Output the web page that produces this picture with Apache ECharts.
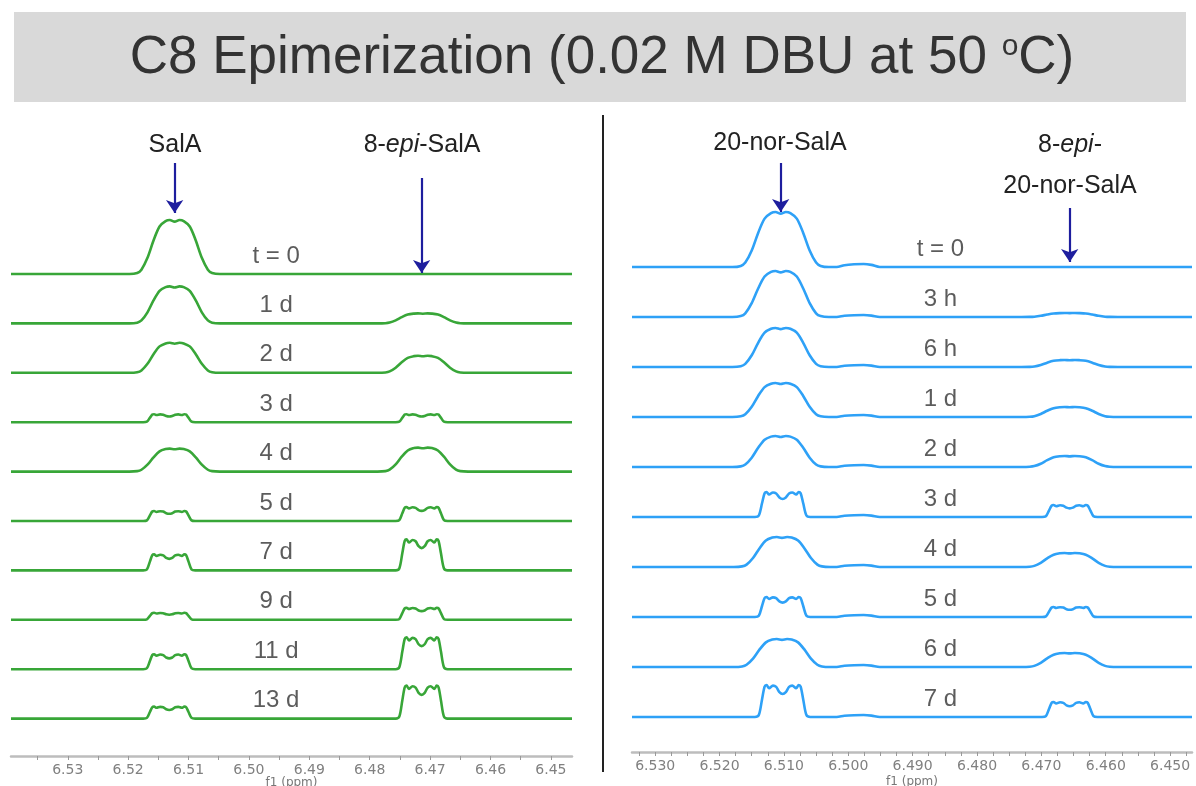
<!DOCTYPE html>
<html>
<head>
<meta charset="utf-8">
<script src="https://cdn.jsdelivr.net/npm/echarts@6/dist/echarts.min.js"></script>
<style>
html,body{margin:0;padding:0;background:#fff;}
#chart{width:1196px;height:786px;}
</style>
</head>
<body>
<div id="chart"></div>
<script>
// ---------- data ----------
const titleText = 'C8 Epimerization (0.02 M DBU at 50 ';
const leftLabels  = ['t = 0','1 d','2 d','3 d','4 d','5 d','7 d','9 d','11 d','13 d'];
const rightLabels = ['t = 0','3 h','6 h','1 d','2 d','3 d','4 d','5 d','6 d','7 d'];

// peak centres (ppm) per trace
const leftMainCenters  = [6.5123, 6.5123, 6.5123, 6.5132, 6.5123, 6.5132, 6.5132, 6.5132, 6.5132, 6.5132];
const leftEpiCenters   = [6.4714, 6.4712, 6.4712, 6.4714, 6.4712, 6.4714, 6.4714, 6.4714, 6.4714, 6.4714];
const rightMainCenters = [6.5105, 6.5105, 6.5105, 6.5105, 6.5105, 6.5102, 6.5103, 6.5102, 6.5103, 6.5102];
const rightEpiCenters  = [6.4656, 6.4656, 6.4656, 6.4656, 6.4656, 6.4656, 6.4656, 6.4656, 6.4656, 6.4656];

// peak heights and shapes per trace (b = broad, m = resolved multiplet)
const leftMainHeights  = [54, 37, 30, 8, 23, 10, 16, 7, 15, 12];
const leftEpiHeights   = [0, 10, 17, 8, 24, 14, 31, 12, 32, 33];
const leftShapes       = ['b','b','b','m','b','m','m','m','m','m'];
const rightMainHeights = [55, 46, 39, 34, 31, 25, 30, 20, 28, 32];
const rightEpiHeights  = [0, 4, 7, 10, 11, 12, 14, 10, 14, 15];
const rightShapes      = ['b','b','b','b','b','m','b','m','b','m'];

// small baseline hump next to the main peak in the right-hand spectra
const rightHumpPpm = 6.4986;
const rightHumpHeights = [3, 2, 2, 2, 2, 2, 2, 2, 2, 2];
const leftHumpPpm = 6.5000;
const leftHumpHeights = [0, 0, 0, 0, 0, 0, 0, 0, 0, 0];

// line shapes: [ppm offset from centre, relative height]
const broadProfile = [
  [-0.0075,0],[-0.0062,0.02],[-0.0055,0.08],[-0.0045,0.3],[-0.0035,0.62],[-0.0025,0.88],
  [-0.0015,0.98],[-0.0008,1.0],[0,0.97],[0.0008,1.0],[0.0015,0.98],[0.0025,0.88],
  [0.0035,0.62],[0.0045,0.3],[0.0055,0.08],[0.0062,0.02],[0.0075,0]
];
const multipletProfile = [
  [-0.0043,0],[-0.0037,0.06],[-0.0032,0.55],[-0.0028,0.95],[-0.0025,1.0],[-0.0021,0.9],
  [-0.0015,0.98],[-0.0010,0.94],[-0.0005,0.78],[0,0.72],[0.0005,0.78],[0.0010,0.94],
  [0.0015,0.98],[0.0021,0.9],[0.0025,1.0],[0.0028,0.95],[0.0032,0.55],[0.0037,0.06],[0.0043,0]
];
const humpProfile = [
  [-0.0035,0],[-0.0022,0.7],[-0.0010,1.0],[0.0005,0.9],[0.0020,0.6],[0.0032,0]
];

// axis tick labels
const leftTicks  = [6.45,6.46,6.47,6.48,6.49,6.50,6.51,6.52,6.53];
const rightTicks = [6.45,6.46,6.47,6.48,6.49,6.50,6.51,6.52,6.53];

// ---------- layout / style ----------
const GREEN = '#38a638', BLUE = '#2ea1f7', ARROW = '#1e1e9e';
const L = {min:6.4465, max:6.5394, left:11, width:561, top:100, bottom:30, ymax:656, base0:482, step:49.4, labelPpm:6.4955, nameGap:27};
const R = {min:6.4466, max:6.5336, left:632, width:560, top:100, bottom:34, ymax:652, base0:485, step:50, labelPpm:6.4857, nameGap:30};

function buildTrace(base, peaks, xmin, xmax) {
  const pts = [[xmax, base]];
  peaks.slice().sort((a,b)=>b.c-a.c).forEach(p => {
    if (p.h <= 0) return;
    const prof = p.shape === 'm' ? multipletProfile : (p.shape === 'h' ? humpProfile : broadProfile);
    for (let k = prof.length - 1; k >= 0; k--) {
      pts.push([p.c + prof[k][0], base + p.h * prof[k][1]]);
    }
  });
  pts.push([xmin, base]);
  return pts;
}

function tickValues(min, max, step) {
  const out = [];
  const start = Math.ceil(min / step - 1e-9);
  for (let k = start; k * step <= max + 1e-9; k++) out.push(+(k * step).toFixed(4));
  return out;
}

const series = [];
function addPanel(P, idx, labels, mainC, epiC, mainH, epiH, shapes, humpC, humpH, color) {
  labels.forEach((lab, i) => {
    const base = P.base0 - P.step * i;
    series.push({
      type:'line', xAxisIndex:idx, yAxisIndex:idx, showSymbol:false, smooth:0.3,
      silent:true, animation:false,
      lineStyle:{color:color, width:2.6},
      data: buildTrace(base, [
        {c:mainC[i],h:mainH[i],shape:shapes[i]},
        {c:humpC,h:humpH[i],shape:'h'},
        {c:epiC[i],h:epiH[i],shape:shapes[i]}], P.min, P.max)
    });
  });
  series.push({
    type:'scatter', xAxisIndex:idx, yAxisIndex:idx, symbolSize:0, silent:true, animation:false,
    data: labels.map((lab,i)=>[P.labelPpm, P.base0 - P.step*i + 18]),
    label:{show:true, position:'inside', formatter:p=>labels[p.dataIndex],
      fontFamily:'Liberation Sans', fontSize:24, color:'#333'}
  });
}
addPanel(L, 0, leftLabels, leftMainCenters, leftEpiCenters, leftMainHeights, leftEpiHeights, leftShapes, leftHumpPpm, leftHumpHeights, GREEN);
addPanel(R, 1, rightLabels, rightMainCenters, rightEpiCenters, rightMainHeights, rightEpiHeights, rightShapes, rightHumpPpm, rightHumpHeights, BLUE);

function arrowSeries(idx, arrows) {
  return {
    type:'line', xAxisIndex:idx, yAxisIndex:idx, data:[], silent:true, animation:false,
    markLine:{
      silent:true, animation:false, symbol:['none','arrow'], symbolSize:13,
      label:{show:false},
      lineStyle:{color:ARROW, width:2.2, type:'solid'},
      data: arrows.map(a=>[{coord:[a[0],a[1]]},{coord:[a[0],a[2]]}])
    }
  };
}
series.push(arrowSeries(0, [[6.5123, 593, 543],[6.4714, 578, 483]]));
series.push(arrowSeries(1, [[6.5105, 589, 540],[6.4656, 544, 490]]));

function xAxisFor(P, idx, ticks, dec, minorStep) {
  return {
    type:'value', gridIndex:idx, inverse:true, min:P.min, max:P.max,
    name:'f1 (ppm)', nameLocation:'middle', nameGap:P.nameGap, nameMoveOverlap:false,
    nameTextStyle:{fontFamily:'DejaVu Sans', fontSize:12, color:'#777', verticalAlign:'middle'},
    axisLine:{show:true, lineStyle:{color:'#bdbdbd', width:2.5}},
    axisTick:{show:true, customValues:tickValues(P.min, P.max, minorStep), length:4, lineStyle:{color:'#999', width:1}},
    axisLabel:{show:true, customValues:ticks, formatter:v=>Number(v).toFixed(dec),
      fontFamily:'DejaVu Sans', fontSize:14, color:'#808080', margin:7},
    splitLine:{show:false}
  };
}

const option = {
  backgroundColor:'#fff',
  animation:false,
  grid:[
    {left:L.left, width:L.width, top:L.top, bottom:L.bottom, containLabel:false, outerBoundsMode:'none'},
    {left:R.left, width:R.width, top:R.top, bottom:R.bottom, containLabel:false, outerBoundsMode:'none'}
  ],
  xAxis:[xAxisFor(L,0,leftTicks,2,0.005), xAxisFor(R,1,rightTicks,3,0.0025)],
  yAxis:[
    {type:'value', gridIndex:0, min:0, max:L.ymax, show:false},
    {type:'value', gridIndex:1, min:0, max:R.ymax, show:false}
  ],
  series:series,
  graphic:[
    {type:'rect', left:14, top:12, shape:{width:1172, height:90}, style:{fill:'#d9d9d9'}, silent:true},
    {type:'text', x:602, y:58, style:{text:titleText+'{sup|o}C)', font:'53px "Liberation Sans"', fill:'#333',
      align:'center', verticalAlign:'middle',
      rich:{sup:{fontSize:30, fontFamily:'Liberation Sans', fill:'#333', verticalAlign:'top', padding:[0,0,22,0]}}}},
    {type:'line', shape:{x1:603, y1:115, x2:603, y2:772}, style:{stroke:'#222', lineWidth:2}},
    {type:'text', x:175, y:145, style:{text:'SalA', font:'25px "Liberation Sans"', fill:'#222', align:'center', verticalAlign:'middle'}},
    {type:'text', x:422, y:145, style:{text:'8-{i|epi}-SalA', font:'25px "Liberation Sans"', fill:'#222', align:'center', verticalAlign:'middle',
      rich:{i:{fontStyle:'italic', fontSize:25, fontFamily:'Liberation Sans', fill:'#222'}}}},
    {type:'text', x:780, y:143, style:{text:'20-nor-SalA', font:'25px "Liberation Sans"', fill:'#222', align:'center', verticalAlign:'middle'}},
    {type:'text', x:1070, y:145, style:{text:'8-{i|epi}-', font:'25px "Liberation Sans"', fill:'#222', align:'center', verticalAlign:'middle',
      rich:{i:{fontStyle:'italic', fontSize:25, fontFamily:'Liberation Sans', fill:'#222'}}}},
    {type:'text', x:1070, y:186, style:{text:'20-nor-SalA', font:'25px "Liberation Sans"', fill:'#222', align:'center', verticalAlign:'middle'}}
  ]
};
const chart = echarts.init(document.getElementById('chart'), null, {renderer:'canvas'});
chart.setOption(option);
</script>
</body>
</html>
